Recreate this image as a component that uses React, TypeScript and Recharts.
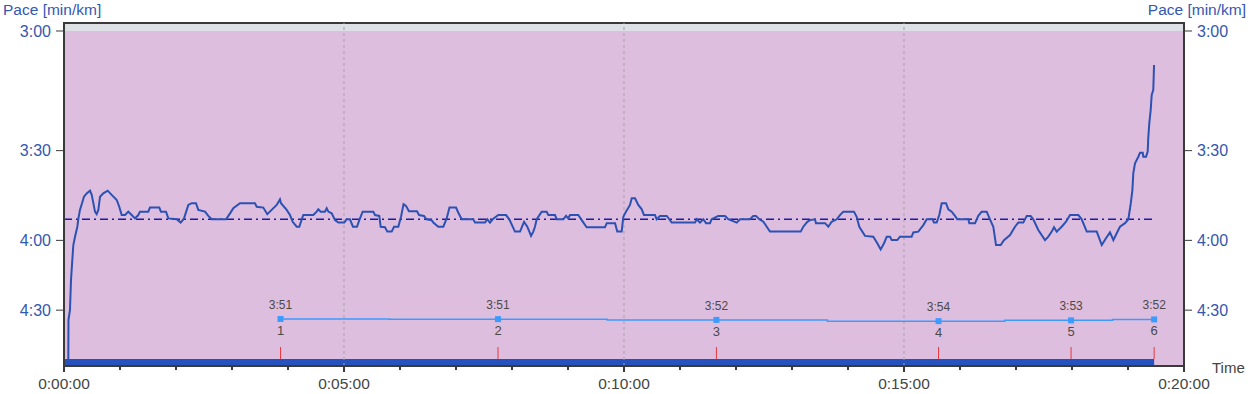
import React from 'react';
import { LineChart, Line, XAxis, YAxis, ReferenceArea, ReferenceLine } from 'recharts';

const FONT = '"Liberation Sans", Arial, Helvetica, sans-serif';

// [elapsed time (s), pace (s per km)]
const paceSamples: [number, number][] = [
  [4.6,300],[4.8,274.8],[6.4,269.9],[7.5,256.2],[8.9,247.7],[10,241.8],[11.8,238.6],[14.3,234.9],[15.3,232.2],[17.1,228.9],
  [19.3,226.6],[21.4,224.4],[24.3,223.3],[27.9,222.4],[29.7,223.8],[31.4,226.5],[33.2,229.5],[35,230.4],[36.8,228.9],[38.6,224.4],
  [42.1,223.3],[46.8,222.4],[51.1,223.8],[56.5,225.5],[59.2,227.8],[61.8,230.7],[65.4,230.7],[68.9,229.5],[72.5,230.7],[76.1,231.9],
  [79.6,230.7],[81.4,229.5],[90.3,229.5],[92.1,228.1],[102.1,228.1],[103.9,229.5],[109.3,229.5],[111.8,231.9],[120.7,232.2],[125,233.4],
  [128.6,231.9],[133.2,227.2],[136.8,226.6],[141.4,226.6],[143.9,228.9],[151.1,229.5],[154.6,231],[158.3,232.2],[173.6,232.2],[177.9,230.1],
  [181.4,228.3],[188.6,226.6],[204.6,226.6],[206.5,227.8],[213.5,228.1],[217.8,230.4],[222.5,228.9],[227.9,227.2],[231.4,225.3],[232.5,226.6],
  [238.6,228.9],[242.1,230.7],[245,233.1],[249.3,234.9],[252.1,234.9],[255.7,231.3],[256.4,230.7],[267.1,230.7],[270.7,229.5],[272.5,228.7],
  [275,229.5],[279.6,229.5],[281.5,228.3],[283.2,229.5],[286.8,230.1],[290.4,232.5],[293.9,233.4],[300.3,233.4],[302.9,232.2],[306.4,232.2],
  [309.6,234.9],[313.9,234.9],[316.4,232.5],[320,229.5],[331.4,229.5],[333.2,230.7],[337.8,231],[339.3,234.9],[343.9,235.1],[346.4,236.7],
  [351.1,236.7],[353.6,234.9],[358.2,234.9],[361.1,231.3],[363.8,226.9],[366.4,227.5],[369.6,229.4],[378.2,229.4],[380.4,230.7],[385.7,231],
  [388.4,232.2],[394,232.6],[395.7,233.4],[401,234.9],[406.4,234.9],[410,231.9],[413,228.1],[420,228.1],[422.5,229.9],[426.1,232.2],
  [438.5,232.2],[440.4,233.4],[451.1,233.4],[453.5,232.2],[456.4,233.4],[459.3,232.2],[465.3,230.7],[473.6,230.7],[477.1,232.2],[483.2,236.7],
  [488.6,236.7],[492.9,233.1],[496.4,234.9],[500.4,238.3],[502.8,236.7],[504.6,234.9],[506.5,232.2],[511.8,229.5],[517.1,229.5],[518.9,230.7],
  [526.1,230.7],[527.9,232.2],[535,232.2],[537.9,231],[540.3,231.9],[542.1,230.7],[551,230.7],[554.7,232.5],[560,235.1],[579.6,235.1],
  [581.5,233.6],[590.4,233.6],[592.8,236.7],[597.5,236.7],[599.3,231.3],[602.1,229.5],[606.4,227.2],[608.3,224.9],[611.8,224.9],[615.3,227.2],
  [619,228.7],[621.4,230.7],[633.2,230.7],[635,232.2],[638.6,231],[645.8,231],[648.5,232.2],[651.1,233.4],[676.1,233.4],[677.9,232.2],
  [681.4,233.4],[685,232.2],[687.9,233.6],[692.1,233.6],[693.9,232.2],[701,231],[708.2,231],[711.8,232.2],[720.8,233.4],[724.3,232.2],
  [735,232.2],[738.5,231],[741.4,231],[745,232.2],[749.3,233.1],[756.4,236.7],[789.3,236.7],[792.1,234.9],[796.4,233.1],[799.3,232.5],
  [804.6,232.2],[805.7,233.6],[815.4,233.6],[818.9,234.9],[822.5,233.1],[825,232.7],[827.9,232.2],[831.4,230.7],[835,229.5],[846.4,229.5],
  [849.3,231.3],[852.1,234.9],[858.2,238.3],[867.1,238.6],[871.4,241.1],[875,243.5],[878.6,241.1],[881.5,238.6],[885,238.6],[886.8,239.9],
  [892.8,239.9],[895.7,238.6],[908.2,238.6],[910,237],[915.3,236.7],[920.7,234.3],[924.3,232.2],[930.7,232.2],[932.1,233.4],[935,233.4],
  [937.8,230.7],[940.4,226.6],[945,226.6],[947.5,228.7],[951.1,229.5],[954.6,231],[957.1,232.2],[968.9,232.2],[970,233.6],[976.1,233.6],
  [979.6,231],[983.2,229.5],[988.6,229.5],[992.1,232.2],[995.7,234.9],[998.6,241.8],[1003.6,241.8],[1007.1,239.9],[1013.6,238],[1018.9,234.9],
  [1022.5,233.4],[1027.8,233.4],[1031.5,231],[1035.7,231],[1038.5,232.2],[1043.9,236.1],[1051.1,239.9],[1054.6,238.6],[1058.3,236.7],[1060.7,235.1],
  [1063.6,236.7],[1068.9,234.9],[1073.6,233.1],[1077.9,230.7],[1086.8,230.7],[1090.4,232.2],[1095.8,236.7],[1106.5,236.7],[1111.9,241.8],[1116.4,239.2],
  [1120.7,237],[1124.3,239.9],[1127.9,237.3],[1131.4,234.9],[1136.8,233.6],[1140.4,232.2],[1143,226.6],[1144.7,222.2],[1145.7,216.8],[1147.5,213.8],
  [1151.1,211.8],[1152.9,210.6],[1155.8,210.6],[1156.4,211.8],[1159.3,211.8],[1161.1,210.3],[1161.7,206.4],[1162.8,202.3],[1164.3,198.8],[1165.4,194.9],
  [1167.1,193.6],[1167.9,187.6],
];

const lapNumbers = [1, 2, 3, 4, 5, 6];
const lapEndTimes = [232, 465, 699, 937, 1079, 1168]; // s
const lapPaces = [231.0, 231.2, 232.2, 233.8, 232.8, 231.6]; // s per km
const averagePace = 232.2; // s per km
const activityEnd = 1168; // s

const paceTicks = [180, 210, 240, 270]; // s per km -> 3:00 3:30 4:00 4:30
const paceDomain = [300, 178.3]; // bottom, top (s per km)
const timeTicks = [0, 60, 120, 180, 240, 300, 360, 420, 480, 540, 600, 660, 720, 780, 840, 900, 960, 1020, 1080, 1140, 1200];
const timeLabelTicks = [0, 300, 600, 900, 1200];
const gridTimes = [300, 600, 900];

const toSpeed = (pace: number) => 3600 / pace;
const speedMin = toSpeed(paceDomain[0]);
const speedMax = toSpeed(paceDomain[1]);
const speedTicks = paceTicks.map(toSpeed);
const markBandLow = 12.167;
const markBandHigh = 12.454;

const paceData = paceSamples.map(([t, p]) => ({ t, v: toSpeed(p) }));
const lapData = lapEndTimes.map((t, i) => ({ t, pace: lapPaces[i], n: lapNumbers[i] }));

const fmtMinSec = (sec: number) => {
  const s = Math.round(sec);
  const m = Math.floor(s / 60);
  const r = s % 60;
  return `${m}:${r < 10 ? '0' : ''}${r}`;
};
const fmtPaceFromSpeed = (v: number) => fmtMinSec(3600 / v);
const fmtClock = (sec: number) => {
  const h = Math.floor(sec / 3600);
  const m = Math.floor((sec % 3600) / 60);
  const s = Math.round(sec % 60);
  const p = (x: number) => (x < 10 ? '0' : '') + x;
  return `${h}:${p(m)}:${p(s)}`;
};

const AXIS = '#3a3a3a';
const BLUE_TXT = '#3457b0';

function TimeTick(props: any) {
  const { x, y, payload } = props;
  const v = payload.value;
  const major = timeLabelTicks.includes(v);
  return (
    <g>
      <line x1={x} x2={x} y1={y} y2={y + (major ? 6 : 4)} stroke={AXIS} strokeWidth={2} />
      {major && (
        <text x={x} y={y + 23} textAnchor="middle" fontSize={15.5} fill="#444" fontFamily={FONT}>
          {fmtClock(v)}
        </text>
      )}
    </g>
  );
}

function LapDot(props: any) {
  const { cx, cy, payload, index } = props;
  if (cx == null || cy == null) return <g key={`lap-${index}`} />;
  return (
    <g key={`lap-${index}`}>
      <rect x={cx - 3} y={cy - 3} width={6} height={6} fill="#3d9bff" />
      <text x={cx} y={cy - 10} textAnchor="middle" fontSize={12} fill="#4a4a4a" fontFamily={FONT}>
        {fmtMinSec(payload.pace)}
      </text>
      <text x={cx} y={cy + 16} textAnchor="middle" fontSize={13} fill="#4a4a4a" fontFamily={FONT}>
        {payload.n}
      </text>
    </g>
  );
}

export default function App() {
  return (
    <div style={{ position: 'absolute', left: 0, top: 0, width: 1250, height: 394, background: '#fff' }}>
      <LineChart width={1250} height={394} margin={{ top: 23, right: 0, bottom: 0, left: 0 }}>
        <XAxis
          type="number"
          dataKey="t"
          domain={[0, 1200]}
          ticks={timeTicks}
          interval={0}
          height={28}
          tickSize={0}
          tickMargin={0}
          tickLine={false}
          axisLine={{ stroke: AXIS, strokeWidth: 2 }}
          tick={<TimeTick />}
          allowDataOverflow
        />
        <YAxis
          yAxisId="spd"
          orientation="left"
          width={64}
          type="number"
          domain={[speedMin, speedMax]}
          ticks={speedTicks}
          interval={0}
          allowDataOverflow
          tickSize={8}
          tickMargin={5}
          tick={{ fill: BLUE_TXT, fontSize: 16, fontFamily: FONT }}
          tickLine={{ stroke: AXIS }}
          axisLine={{ stroke: AXIS, strokeWidth: 2 }}
          tickFormatter={fmtPaceFromSpeed}
        />
        <YAxis
          yAxisId="spdR"
          orientation="right"
          width={66}
          type="number"
          domain={[speedMin, speedMax]}
          ticks={speedTicks}
          interval={0}
          allowDataOverflow
          tickSize={8}
          tickMargin={5}
          tick={{ fill: BLUE_TXT, fontSize: 16, fontFamily: FONT }}
          tickLine={{ stroke: AXIS }}
          axisLine={{ stroke: AXIS, strokeWidth: 2 }}
          tickFormatter={fmtPaceFromSpeed}
        />
        <YAxis yAxisId="lap" hide width={0} type="number" reversed domain={[-153, 292]} allowDataOverflow />

        <ReferenceArea yAxisId="spd" x1={0} x2={1200} y1={speedMin} y2={toSpeed(180)} fill="#debedf" fillOpacity={1} stroke="none" />
        <ReferenceArea yAxisId="spd" x1={0} x2={1200} y1={toSpeed(180)} y2={speedMax} fill="#dde0e5" fillOpacity={1} stroke="none" />
        {gridTimes.map((g) => (
          <ReferenceLine key={g} yAxisId="spd" x={g} stroke="#a3a3a3" strokeDasharray="3 3" strokeWidth={1} />
        ))}
        <ReferenceArea yAxisId="spd" x1={0} x2={activityEnd} y1={speedMin} y2={markBandLow} fill="#2652bd" fillOpacity={1} stroke="none" />
        {lapEndTimes.map((t) => (
          <ReferenceLine
            key={`m${t}`}
            yAxisId="spd"
            segment={[{ x: t, y: markBandLow }, { x: t, y: markBandHigh }]}
            stroke="#e8383d"
            strokeWidth={1}
          />
        ))}
        <ReferenceLine
          yAxisId="spd"
          segment={[{ x: 0, y: toSpeed(averagePace) }, { x: activityEnd, y: toSpeed(averagePace) }]}
          stroke="#1b1ba6"
          strokeWidth={1.5}
          strokeDasharray="8 4 2 4"
        />
        <ReferenceArea yAxisId="spd" x1={0} x2={1200} y1={speedMin} y2={speedMax} fill="none" stroke={AXIS} strokeWidth={2} />

        <Line
          yAxisId="lap"
          data={lapData}
          dataKey="pace"
          type="step"
          stroke="#3d9bff"
          strokeWidth={1.5}
          dot={(p: any) => <LapDot {...p} />}
          activeDot={false}
          isAnimationActive={false}
        />
        <Line
          yAxisId="spd"
          data={paceData}
          dataKey="v"
          type="linear"
          stroke="#2b51b3"
          strokeWidth={2}
          dot={false}
          activeDot={false}
          isAnimationActive={false}
        />
      </LineChart>
      <svg width={1250} height={394} style={{ position: 'absolute', left: 0, top: 0, pointerEvents: 'none' }}>
        <text x={3} y={15} fontSize={15.5} fill={BLUE_TXT} fontFamily={FONT}>Pace [min/km]</text>
        <text x={1246} y={15} fontSize={15.5} fill={BLUE_TXT} fontFamily={FONT} textAnchor="end">Pace [min/km]</text>
        <text x={1212} y={373} fontSize={15} fill="#444" fontFamily={FONT}>Time</text>
      </svg>
    </div>
  );
}
